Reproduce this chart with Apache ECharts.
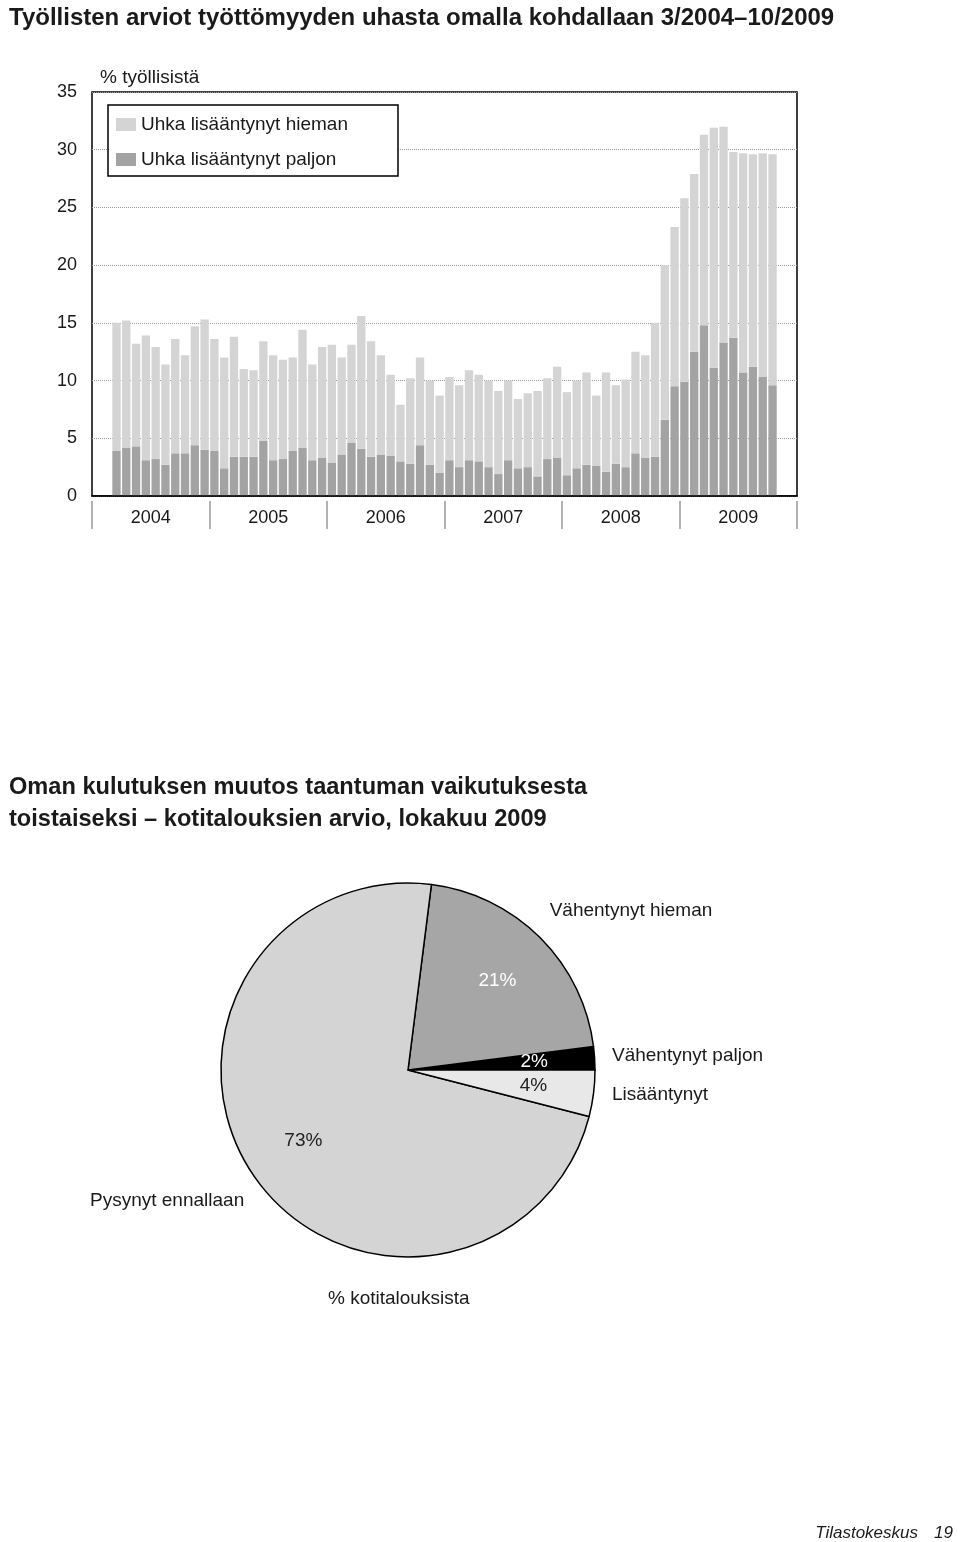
<!DOCTYPE html>
<html>
<head>
<meta charset="utf-8">
<script src="https://cdn.jsdelivr.net/npm/echarts@6/dist/echarts.min.js"></script>
<style>
html,body{margin:0;padding:0;background:#fff;}
#chart{width:960px;height:1542px;}
</style>
</head>
<body>
<div id="chart"></div>
<script>
// ---- Data ----
const years = ['2004', '2005', '2006', '2007', '2008', '2009'];
const yTicks = [0, 5, 10, 15, 20, 25, 30, 35];
// Monthly values 3/2004 - 10/2009 (% of employed)
const paljon = [
  3.9, 4.2, 4.3, 3.1, 3.2, 2.7, 3.7, 3.7, 4.4, 4.0,
  3.9, 2.4, 3.4, 3.4, 3.4, 4.8, 3.1, 3.2, 3.9, 4.2, 3.1, 3.3,
  2.9, 3.6, 4.6, 4.1, 3.4, 3.6, 3.5, 3.0, 2.8, 4.4, 2.7, 2.0,
  3.1, 2.5, 3.1, 3.0, 2.5, 1.9, 3.1, 2.4, 2.5, 1.7, 3.2, 3.3,
  1.8, 2.4, 2.7, 2.6, 2.1, 2.8, 2.5, 3.7, 3.3, 3.4, 6.6, 9.5,
  9.9, 12.5, 14.8, 11.1, 13.3, 13.7, 10.7, 11.2, 10.3, 9.6
];
const hieman = [
  11.1, 11.0, 8.9, 10.8, 9.7, 8.7, 9.9, 8.5, 10.3, 11.3,
  9.7, 9.6, 10.4, 7.6, 7.5, 8.6, 9.1, 8.6, 8.1, 10.2, 8.3, 9.6,
  10.2, 8.4, 8.5, 11.5, 10.0, 8.6, 7.0, 4.9, 7.4, 7.6, 7.3, 6.7,
  7.2, 7.1, 7.8, 7.5, 7.5, 7.2, 6.9, 6.0, 6.4, 7.4, 7.0, 7.9,
  7.2, 7.6, 8.0, 6.1, 8.6, 6.8, 7.6, 8.8, 8.9, 11.6, 13.4, 13.8,
  15.9, 15.4, 16.5, 20.8, 18.7, 16.1, 19.0, 18.4, 19.4, 20.0
];
const seriesNames = ['Uhka lisääntynyt hieman', 'Uhka lisääntynyt paljon'];

const pieNames = ['Vähentynyt paljon', 'Vähentynyt hieman', 'Pysynyt ennallaan', 'Lisääntynyt'];
const pieValues = [2, 21, 73, 4];

// ---- Build month categories (Jan 2004 .. Dec 2009), data 3/2004 .. 10/2009 ----
const months = [];
years.forEach(y => { for (let m = 1; m <= 12; m++) months.push(m + '/' + y); });
const startIdx = months.indexOf('3/2004');
function pad(arr) {
  const out = months.map(() => '-');
  arr.forEach((v, i) => { out[startIdx + i] = v; });
  return out;
}

// ---- Styles ----
const LIGHT = '#d4d4d4', DARK = '#a3a3a3';
const pieColors = ['#000000', '#a6a6a6', '#d4d4d4', '#e8e8e8'];
const pieLabelColors = ['#ffffff', '#ffffff', '#222222', '#222222'];
const SANS = '"Liberation Sans", sans-serif';
const TXT = '#1a1a1a';
const FS = 19;
const namePos = {
  'Vähentynyt paljon': { x: 612, y: 1056, align: 'left' },
  'Vähentynyt hieman': { x: 631, y: 911, align: 'center' },
  'Pysynyt ennallaan': { x: 90, y: 1201, align: 'left' },
  'Lisääntynyt': { x: 612, y: 1095, align: 'left' }
};

const chart = echarts.init(document.getElementById('chart'), null, { renderer: 'canvas' });
chart.setOption({
  backgroundColor: '#fff',
  animation: false,
  title: [
    { text: 'Työllisten arviot työttömyyden uhasta omalla kohdallaan 3/2004–10/2009',
      left: 4, top: 1, textStyle: { fontFamily: SANS, fontWeight: 'bold', fontSize: 24, color: TXT } },
    { text: '% työllisistä', left: 95, top: 63,
      textStyle: { fontFamily: SANS, fontWeight: 'normal', fontSize: FS, color: TXT } },
    { text: 'Oman kulutuksen muutos taantuman vaikutuksesta\ntoistaiseksi – kotitalouksien arvio, lokakuu 2009',
      left: 4, top: 766, textStyle: { fontFamily: SANS, fontWeight: 'bold', fontSize: 23.6, lineHeight: 32, color: TXT } },
    { text: '% kotitalouksista', left: 323, top: 1284,
      textStyle: { fontFamily: SANS, fontWeight: 'normal', fontSize: FS, color: TXT } },
    { text: 'Tilastokeskus', right: 37, top: 1520,
      textStyle: { fontFamily: SANS, fontStyle: 'italic', fontWeight: 'normal', fontSize: 17, color: TXT } },
    { text: '19', right: 2, top: 1520,
      textStyle: { fontFamily: SANS, fontStyle: 'italic', fontWeight: 'normal', fontSize: 17, color: TXT } }
  ],
  legend: {
    data: seriesNames,
    orient: 'vertical',
    left: 108, top: 105,
    padding: [10, 50, 7, 8],
    itemWidth: 20, itemHeight: 13, itemGap: 16,
    icon: 'rect',
    borderColor: '#000', borderWidth: 1.5,
    backgroundColor: '#fff',
    selectedMode: false,
    textStyle: { fontFamily: SANS, fontSize: FS, color: TXT }
  },
  grid: {
    left: 92, right: 163, top: 92, bottom: 1046,
    show: true, borderColor: '#000', borderWidth: 1.5, backgroundColor: 'transparent'
  },
  xAxis: [
    { type: 'category', data: months, gridIndex: 0, z: 5,
      axisLine: { show: true, lineStyle: { color: '#000', width: 1.5 } },
      axisTick: { show: false }, axisLabel: { show: false }, splitLine: { show: false } },
    { type: 'category', data: years, gridIndex: 0, position: 'bottom', offset: 5,
      boundaryGap: true,
      axisLine: { show: false },
      axisTick: { show: true, length: 28, lineStyle: { color: '#999', width: 1.5 } },
      axisLabel: { margin: 8, fontFamily: SANS, fontSize: 18, color: TXT },
      splitLine: { show: false } }
  ],
  yAxis: [{
    type: 'value', min: yTicks[0], max: yTicks[yTicks.length - 1], interval: 5,
    axisLine: { show: false }, axisTick: { show: false },
    axisLabel: { margin: 15, fontFamily: SANS, fontSize: 18, color: TXT },
    splitLine: { show: true, lineStyle: { color: '#999', type: 'dotted', width: 1 } }
  }],
  series: [
    { name: seriesNames[1], type: 'bar', stack: 'uhka', xAxisIndex: 0, data: pad(paljon),
      barCategoryGap: '15%', itemStyle: { color: DARK } },
    { name: seriesNames[0], type: 'bar', stack: 'uhka', xAxisIndex: 0, data: pad(hieman),
      barCategoryGap: '15%', itemStyle: { color: LIGHT } },
    { type: 'pie', center: [408, 1070], radius: [0, 187],
      startAngle: 0, clockwise: false,
      data: pieNames.map((n, i) => ({ name: n, value: pieValues[i], itemStyle: { color: pieColors[i] } })),
      itemStyle: { borderColor: '#000', borderWidth: 1.5 },
      label: { show: true, position: 'outside', formatter: '{b}', fontFamily: SANS, fontSize: FS, color: TXT },
      labelLine: { show: false },
      labelLayout: function (p) {
        const pos = namePos[pieNames[p.dataIndex]];
        return { x: pos.x, y: pos.y, align: pos.align, verticalAlign: 'middle' };
      },
      emphasis: { disabled: true }, silent: true
    },
    { type: 'pie', center: [408, 1070], radius: [60, 187],
      startAngle: 0, clockwise: false, z: 5,
      data: pieNames.map((n, i) => ({ name: n, value: pieValues[i],
        label: { color: pieLabelColors[i] } })),
      itemStyle: { color: 'transparent', borderWidth: 0 },
      label: { show: true, position: 'inside', formatter: '{c}%', fontFamily: SANS, fontSize: FS },
      labelLine: { show: false },
      emphasis: { disabled: true }, silent: true
    }
  ]
});
</script>
</body>
</html>
